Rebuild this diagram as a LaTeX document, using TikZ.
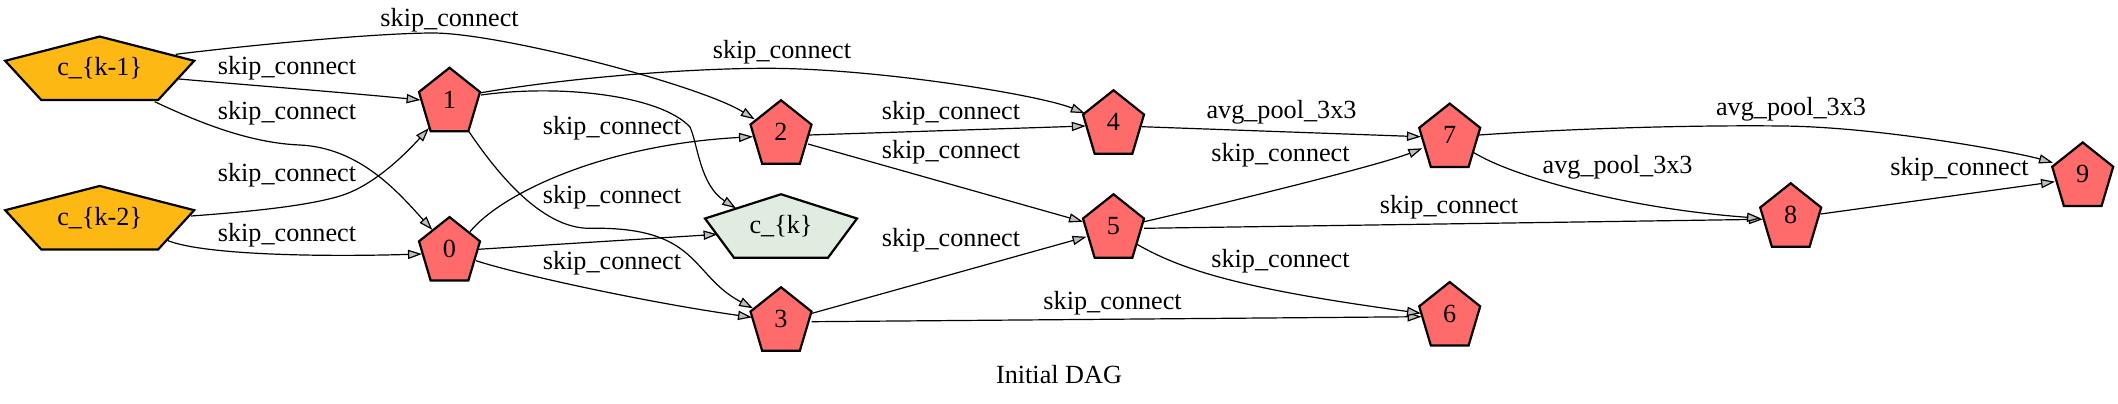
\documentclass[tikz,border=0pt]{standalone}
\usepackage{fontspec}
\setmainfont{Liberation Serif}
\usetikzlibrary{arrows.meta,calc}
\definecolor{redfill}{HTML}{FF6A6A}
\definecolor{yelfill}{HTML}{FDB813}
\definecolor{grnfill}{HTML}{DFECDF}
\definecolor{tipfill}{HTML}{BEBEBE}
\newcommand\pent[7]{%
  \filldraw[nodeline, fill=#6] (#2,#3) ++(0,{-#5/2}) -- ++({#4/2},{0.382*#5}) -- ++({-0.191*#4},{0.618*#5}) -- ++({-0.618*#4},0) -- ++({-0.191*#4},{-0.618*#5}) -- cycle;
  \node[txt] (#1) at (#2,#3) {#7};}
\begin{document}
\begin{tikzpicture}[x=0.5pt,y=-0.5pt,
  nodeline/.style={draw=black, line width=1.1pt, line join=miter},
  txt/.style={font=\fontsize{13.1}{15}\selectfont, inner sep=0pt},
  lbl/.style={font=\fontsize{13.1}{15}\selectfont, inner sep=0pt},
  edge/.style={draw=black, line width=0.6pt, -{Triangle[length=7pt,width=4.6pt,fill=tipfill]}}]
\useasboundingbox (0,0) rectangle (2118,403);
% nodes
\pent{km1}{99.7}{68.3}{189}{63.5}{yelfill}{c\_\{k-1\}}
\pent{km2}{99.7}{217.7}{189}{63.5}{yelfill}{c\_\{k-2\}}
\pent{n1}{449.5}{99.5}{61}{63.5}{redfill}{1}
\pent{n0}{449.5}{248.8}{61}{63.5}{redfill}{0}
\pent{n2}{781}{132}{61}{63.5}{redfill}{2}
\pent{ck}{781}{226}{152}{63.5}{grnfill}{c\_\{k\}}
\pent{n3}{781}{319}{61}{63.5}{redfill}{3}
\pent{n4}{1113.5}{122}{61}{63.5}{redfill}{4}
\pent{n5}{1113.5}{226}{61}{63.5}{redfill}{5}
\pent{n7}{1449.7}{135.3}{61}{63.5}{redfill}{7}
\pent{n6}{1449.7}{313.8}{61}{63.5}{redfill}{6}
\pent{n8}{1790.7}{215}{61}{63.5}{redfill}{8}
\pent{n9}{2082.7}{174.2}{61}{63.5}{redfill}{9}
% edges
\draw[edge] ($(km1)+(76,-14)$) .. controls (260,44) and (380,33) .. (433,33) .. controls (500,33) and (700,85) .. ($(n2)+(-26.3,-12.7)$);
\draw[edge] ($(km1)+(79.3,10.7)$) .. controls (260,86) and (350,93) .. ($(n1)+(-28.9,0.5)$);
\draw[edge] ($(km1)+(55,33.4)$) .. controls (200,123) and (250,143) .. (300,145) .. controls (360,148) and (398,192) .. ($(n0)+(-17.1,-18.8)$);
\draw[edge] ($(km2)+(91.3,-1.7)$) .. controls (260,211) and (310,205) .. (340,196) .. controls (370,187) and (400,160) .. ($(n1)+(-20.5,28.5)$);
\draw[edge] ($(km2)+(68.3,23)$) .. controls (205,255) and (320,257) .. ($(n0)+(-27.5,5.2)$);
\draw[edge] ($(n1)+(31.5,-6.8)$) .. controls (580,76) and (700,68) .. (771.6,68.3) .. controls (880,69) and (1040,95) .. ($(n4)+(-28.7,-8.7)$);
\draw[edge] ($(n1)+(31.5,-4.5)$) .. controls (560,84) and (660,95) .. (690,127) .. controls (698,145) and (700,185) .. ($(ck)+(-45,-17.7)$);
\draw[edge] ($(n1)+(19.5,32.2)$) .. controls (495,170) and (540,228) .. (589,228.3) .. controls (700,226) and (690,275) .. ($(n3)+(-28,-10.7)$);
\draw[edge] ($(n0)+(20.5,-17.1)$) .. controls (500,195) and (600,145) .. ($(n2)+(-28,4.7)$);
\draw[edge] ($(n0)+(28.5,0.5)$) -- ($(ck)+(-63.4,8.3)$);
\draw[edge] ($(n0)+(26.5,11.9)$) .. controls (520,275) and (650,303) .. ($(n3)+(-29,-1.7)$);
\draw[edge] ($(n2)+(27.8,3)$) -- ($(n4)+(-27.7,4)$);
\draw[edge] ($(n2)+(27,12)$) -- ($(n5)+(-30.5,-4.3)$);
\draw[edge] ($(n3)+(31,-5.7)$) -- ($(n5)+(-27,10.7)$);
\draw[edge] ($(n3)+(30.5,2.7)$) -- ($(n6)+(-28.1,2.9)$);
\draw[edge] ($(n4)+(28.5,4.7)$) -- ($(n7)+(-28.7,1.4)$);
\draw[edge] ($(n5)+(30.5,-4.3)$) .. controls (1230,202) and (1380,165) .. ($(n7)+(-27.4,13)$);
\draw[edge] ($(n5)+(30.5,2.3)$) -- ($(n8)+(-27.9,4.3)$);
\draw[edge] ($(n5)+(23.5,18.3)$) .. controls (1185,272) and (1250,290) .. ($(n6)+(-28.7,-0.5)$);
\draw[edge] ($(n7)+(29.3,-0.3)$) .. controls (1580,128) and (1700,125) .. (1783,126) .. controls (1880,127) and (2015,152) .. ($(n9)+(-29.7,-11.5)$);
\draw[edge] ($(n7)+(24.3,17.4)$) .. controls (1510,175) and (1620,208) .. ($(n8)+(-29.7,3.3)$);
\draw[edge] ($(n8)+(30,-1)$) -- ($(n9)+(-27.7,7.5)$);
% labels
\node[lbl] (l1) at (449.6,20.5) {skip\_connect};
\node[lbl] (l2) at (287,68.3) {skip\_connect};
\node[lbl] (l3) at (287,113.3) {skip\_connect};
\node[lbl] (l4) at (287,175) {skip\_connect};
\node[lbl] (l5) at (287,235) {skip\_connect};
\node[lbl] (l6) at (782,51.7) {skip\_connect};
\node[lbl] (l7) at (612,128.3) {skip\_connect};
\node[lbl] (l8) at (612,196.7) {skip\_connect};
\node[lbl] (l9) at (612,263.3) {skip\_connect};
\node[lbl] (l10) at (951,112.7) {skip\_connect};
\node[lbl] (l11) at (951,151.7) {skip\_connect};
\node[lbl] (l12) at (951,240) {skip\_connect};
\node[lbl] (l13) at (1112.6,302.7) {skip\_connect};
\node[lbl] (l14) at (1281.5,112.7) {avg\_pool\_3x3};
\node[lbl] (l15) at (1280.5,155) {skip\_connect};
\node[lbl] (l16) at (1449,207.3) {skip\_connect};
\node[lbl] (l17) at (1280.5,261) {skip\_connect};
\node[lbl] (l18) at (1791,109.3) {avg\_pool\_3x3};
\node[lbl] (l19) at (1617.6,167.7) {avg\_pool\_3x3};
\node[lbl] (l20) at (1959.5,169.3) {skip\_connect};
\node[lbl] (title) at (1059,375) {Initial DAG};
\end{tikzpicture}
\end{document}
